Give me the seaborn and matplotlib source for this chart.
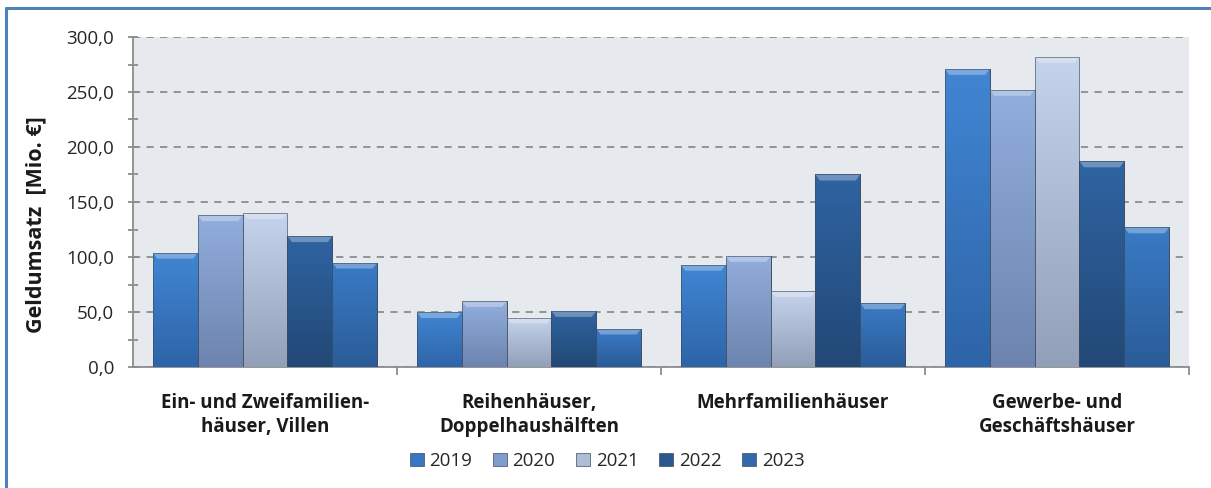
import numpy as np
import pandas as pd
import matplotlib
matplotlib.use("Agg")
import matplotlib.pyplot as plt
import matplotlib.colors as mcolors
from matplotlib.lines import Line2D
from matplotlib.patches import Patch, Polygon
from matplotlib.ticker import MultipleLocator, FuncFormatter
import seaborn as sns

# Data: Geldumsatz in Mio. € by building type and year
categories = [
    "Ein- und Zweifamilien-\nhäuser, Villen",
    "Reihenhäuser,\nDoppelhaushälften",
    "Mehrfamilienhäuser",
    "Gewerbe- und\nGeschäftshäuser",
]
years = ["2019", "2020", "2021", "2022", "2023"]
v2019 = [104, 50, 93, 271]
v2020 = [138, 60, 101, 252]
v2021 = [140, 45, 69, 282]
v2022 = [119, 51, 175, 187]
v2023 = [95, 35, 58, 127]

# Gradient colours per year: (top, bottom)
top_colors = ["#4186D3", "#92AEDD", "#C6D3EC", "#2F64A2", "#3A7BC6"]
bot_colors = ["#2E64A8", "#6C84AE", "#929FB8", "#224876", "#2A5C98"]
base_colors = ["#3877C2", "#819DCB", "#AFBCD8", "#2A5890", "#3269AD"]

rows = []
for y, vals in zip(years, [v2019, v2020, v2021, v2022, v2023]):
    for c, v in zip(categories, vals):
        rows.append({"Kategorie": c, "Jahr": y, "Wert": v})
df = pd.DataFrame(rows)

sns.set_theme(style="white")
plt.rcParams["font.family"] = ["Open Sans", "DejaVu Sans"]

fig = plt.figure(figsize=(12.11, 4.88), dpi=100)
ax = fig.add_axes([133 / 1211, 1 - 367 / 488, (1189 - 133) / 1211, (367 - 37) / 488])
ax.set_facecolor("#E6EAEE")

sns.barplot(
    data=df, x="Kategorie", y="Wert", hue="Jahr",
    order=categories, hue_order=years,
    palette=base_colors, width=0.85, gap=0, saturation=1,
    edgecolor="#3E4A5A", linewidth=0.6, ax=ax, legend=False, zorder=3,
)

# Vertical gradient fill with a bevelled top edge for every bar
px_per_unit = 330 / 300.0
for i, container in enumerate(ax.containers):
    cmap = mcolors.LinearSegmentedColormap.from_list(
        f"g{i}", [bot_colors[i], top_colors[i]]
    )
    for bar in container:
        x0, y0 = bar.get_x(), bar.get_y()
        w, h = bar.get_width(), bar.get_height()
        grad = np.linspace(0, 1, 256).reshape(-1, 1)
        im = ax.imshow(grad, extent=[x0, x0 + w, y0, y0 + h], origin="lower",
                       aspect="auto", cmap=cmap, zorder=3.5)
        im.set_clip_path(bar)
        bev = 6 / px_per_unit
        inset = w * 0.1
        top = Polygon([(x0, y0 + h), (x0 + w, y0 + h), (x0 + w - inset, y0 + h - bev),
                       (x0 + inset, y0 + h - bev)], closed=True,
                      facecolor="white", alpha=0.3, lw=0, zorder=3.6)
        ax.add_patch(top)
        outline = plt.Rectangle((x0, y0), w, h, fill=False,
                                edgecolor="#3E4A5A", lw=0.6, alpha=0.7, zorder=3.7)
        ax.add_patch(outline)

ax.set_xlim(-0.5, 3.5)
ax.set_ylim(0, 300)
ax.yaxis.set_major_locator(MultipleLocator(50))
ax.yaxis.set_minor_locator(MultipleLocator(25))
ax.yaxis.set_major_formatter(FuncFormatter(lambda v, p: f"{v:.1f}".replace(".", ",")))
ax.grid(axis="y", which="major", color="#8C8C8C", linestyle=(0, (4, 3.5)), lw=1.3, zorder=1)

for s in ["top", "right"]:
    ax.spines[s].set_visible(False)
for s in ["left", "bottom"]:
    ax.spines[s].set_color("#8C8C8C")
    ax.spines[s].set_linewidth(1.3)

ax.tick_params(axis="y", which="both", left=True, direction="inout", color="#8C8C8C",
               width=1.3, labelsize=13.5, labelcolor="#262626", pad=10, length=7)

# category boundaries as x tick marks, labels centred on groups
ax.set_xticks([0, 1, 2, 3])
ax.set_xticklabels(categories, fontweight="bold", fontsize=13.5, color="#1A1A1A", linespacing=1.25)
ax.tick_params(axis="x", which="major", length=0, pad=19)
ax.set_xticks([0.5, 1.5, 2.5, 3.5], minor=True)
ax.tick_params(axis="x", which="minor", bottom=True, length=6, color="#8C8C8C", width=1.3)

ax.set_xlabel("")
ax.set_ylabel("Geldumsatz  [Mio. €]", fontweight="bold", fontsize=15.5, color="#1A1A1A")
ax.yaxis.set_label_coords((46 - 133) / 1056, 0.43)

handles = [Patch(facecolor=c, edgecolor="#3E4A5A", lw=0.5) for c in base_colors]
fig.legend(handles, years, loc="center", bbox_to_anchor=(607 / 1211, 1 - 461 / 488),
           ncol=5, frameon=False, fontsize=13.5, handlelength=0.75, handleheight=0.75,
           handletextpad=0.3, columnspacing=1.1)

# chart border (top and left edges)
fig.add_artist(Line2D([6 / 1211, 1], [1 - 8 / 488, 1 - 8 / 488], color="#4F81BD", lw=2.2,
                      transform=fig.transFigure))
fig.add_artist(Line2D([6 / 1211, 6 / 1211], [0, 1 - 8 / 488], color="#4F81BD", lw=2.2,
                      transform=fig.transFigure))

fig.savefig("out.png", dpi=100)
